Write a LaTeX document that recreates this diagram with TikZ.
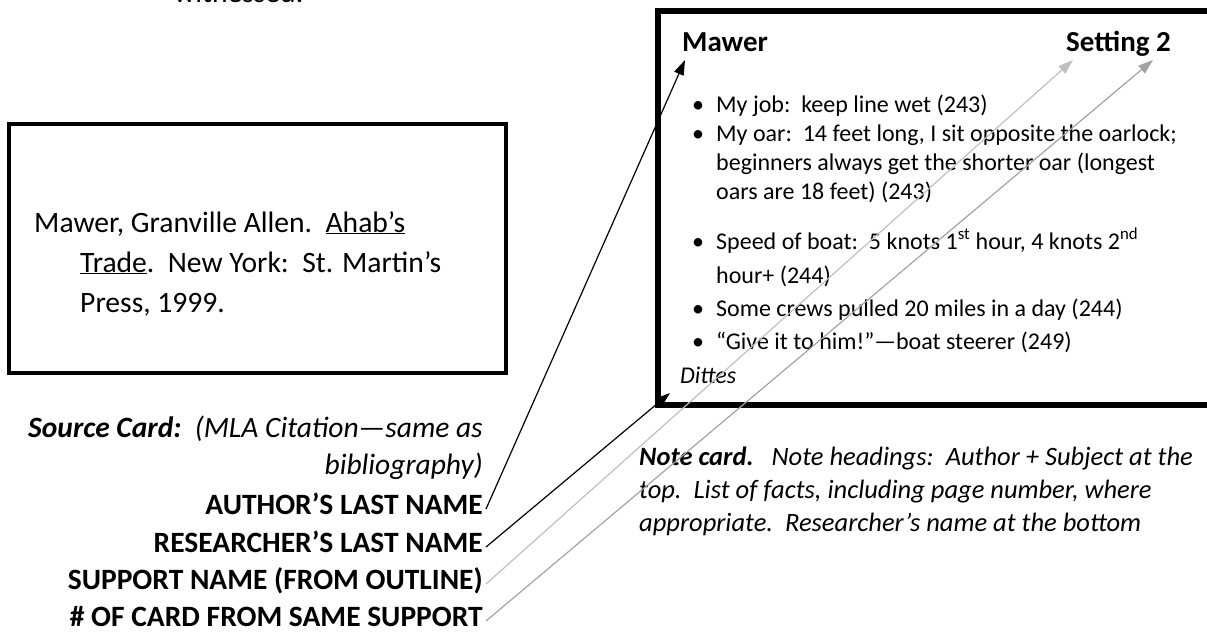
\documentclass[tikz,border=0pt]{standalone}
\usepackage{fontspec}
\setmainfont{Carlito}
\usetikzlibrary{arrows.meta}
\definecolor{lgray}{HTML}{C0C0C0}
\definecolor{dgray}{HTML}{A3A3A3}
\begin{document}
\begin{tikzpicture}[x=1pt,y=-1pt,
  body/.style={inner sep=0pt, anchor=base west, font=\fontsize{24}{28}\selectfont},
  cite/.style={inner sep=0pt, anchor=base west, font=\fontsize{29.6}{34}\selectfont},
  head/.style={inner sep=0pt, font=\fontsize{29}{34}\selectfont\bfseries},
  lab/.style={inner sep=0pt, anchor=base east, font=\fontsize{29.5}{34}\selectfont\bfseries},
  labit/.style={inner sep=0pt, anchor=base east, font=\fontsize{29.5}{34}\selectfont\itshape},
  captext/.style={inner sep=0pt, anchor=base west, font=\fontsize{26.5}{31}\selectfont\itshape},
  conn/.style={line width=1.2pt, -{Triangle[length=15pt,width=10pt]}},
]
\useasboundingbox (0,0) rectangle (1207,635);
\clip (0,0) rectangle (1207,635);
\node[cite] (wit) at (174,2) {witnessed.};
% source card
\draw[line width=4.5pt] (9,124) rectangle (506,373);
\node[cite] (c1) at (34,232) {Mawer, Granville Allen.\ \ \underline{Ahab’s}};
\node[cite] (c2) at (80,272) {\underline{Trade}.\ \ New York:\ \ St. Martin’s};
\node[cite] (c3) at (80,312) {Press, 1999.};
% labels
\node[labit] (src) at (483,437) {\textbf{Source Card:}\ \ (MLA Citation—same as};
\node[labit] (bib) at (483,474) {bibliography)};
\node[lab] (aut) at (483,514) {AUTHOR’S LAST NAME};
\node[lab] (res) at (483,552) {RESEARCHER’S LAST NAME};
\node[lab] (sup) at (483,589) {SUPPORT NAME (FROM OUTLINE)};
\node[lab] (num) at (483,626) {\# OF CARD FROM SAME SUPPORT};
% note card
\draw[line width=6pt] (658,10.5) rectangle (1225,405);
\node[head, anchor=base west] (mawer) at (682,51) {Mawer};
\node[head, anchor=base east] (set) at (1171,51) {Setting 2};
\foreach \y/\t [count=\i] in {112/{My job:\ \ keep line wet (243)},
  141/{My oar:\ \ 14 feet long, I sit opposite the oarlock;},
  249/{Speed of boat:\ \ 5 knots 1\textsuperscript{st} hour, 4 knots 2\textsuperscript{nd}},
  316/{Some crews pulled 20 miles in a day (244)},
  349/{“Give it to him!”—boat steerer (249)}}{
  \node[body] (b\i) at (692,\y) {•};
  \node[body] (t\i) at (716,\y) {\t};
}
\node[body] (t2b) at (716,170) {beginners always get the shorter oar (longest};
\node[body] (t2c) at (716,199) {oars are 18 feet) (243)};
\node[body] (t3b) at (716,283) {hour+ (244)};
\node[body, font=\fontsize{24}{28}\selectfont\itshape] (dit) at (680,383) {Dittes};
% caption
\node[captext] (n1) at (639,465) {\textbf{Note card.}\ \ \ Note headings:\ \ Author + Subject at the};
\node[captext] (n2) at (639,498) {top.\ \ List of facts, including page number, where};
\node[captext] (n3) at (639,531) {appropriate.\ \ Researcher’s name at the bottom};
% arrow targets
\coordinate (tA) at (685,60);
\coordinate (tR) at (670,393);
\coordinate (tS) at (1073,60);
\coordinate (tN) at (1153,60);
\draw[conn, black] ([xshift=3pt,yshift=5pt]aut.base east) -- (tA);
\draw[conn, black] ([xshift=3pt,yshift=5pt]res.base east) -- (tR);
\draw[conn, lgray] ([xshift=3pt,yshift=5pt]sup.base east) -- (tS);
\draw[conn, dgray] ([xshift=3pt,yshift=5pt]num.base east) -- (tN);
\end{tikzpicture}
\end{document}
